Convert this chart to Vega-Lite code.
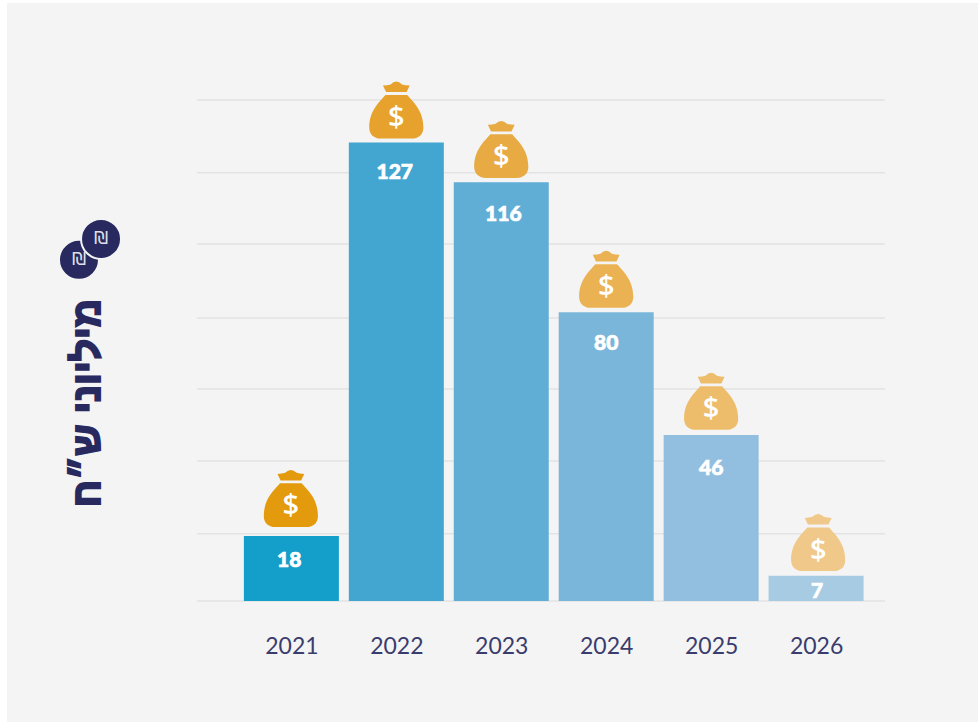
{
 "$schema":"https://vega.github.io/schema/vega-lite/v6.json",
 "width":971,"height":719,
 "padding":{"left":7,"top":3,"right":0,"bottom":0},
 "autosize":"none",
 "background":"#ffffff",
 "view":{"fill":"#f4f4f4","stroke":null},
 "datasets":{
  "bars":[
   {"year":2021,"value":18,"bagX":2020.995,"bag":28.4,"labelX":2020.98,"labelY":11.6},
   {"year":2022,"value":127,"bagX":2022,"bag":136,"labelX":2021.985,"labelY":119.1},
   {"year":2023,"value":116,"bagX":2023,"bag":125.1,"labelX":2023.02,"labelY":107.5},
   {"year":2024,"value":80,"bagX":2024,"bag":89.1,"labelX":2024,"labelY":71.7},
   {"year":2025,"value":46,"bagX":2025,"bag":55.3,"labelX":2025,"labelY":37.1},
   {"year":2026,"value":7,"bagX":2026.02,"bag":16.2,"labelX":2026.01,"labelY":3}
  ],
  "grid":[{"g":0},{"g":18.6},{"g":38.8},{"g":58.7},{"g":78.4},{"g":98.9},{"g":118.6},{"g":138.8}],
  "coins":[{"cx":2018.976,"cy":94.5,"sign":"₪"},{"cx":2019.186,"cy":100.3,"sign":"₪"}],
  "unit":[{"tx":2019.06,"ty":54.8,"label":"מיליוני ש״ח"}]
 },
 "layer":[
  {"data":{"name":"grid"},"mark":{"type":"rule","color":"#e3e3e3","strokeWidth":1.5},
   "encoding":{
    "x":{"datum":2020.1,"type":"quantitative","scale":{"domain":[2018.29,2027.543],"nice":false,"zero":false,"padding":0}},
    "x2":{"datum":2026.657},
    "y":{"field":"g","type":"quantitative","scale":{"domain":[-33.52,165.65],"nice":false,"zero":false}}}},
  {"data":{"name":"bars"},"mark":{"type":"bar","width":95,"orient":"vertical"},
   "encoding":{
    "x":{"field":"year","type":"quantitative","axis":{"values":[2021,2022,2023,2024,2025,2026],"format":"d","title":null,"grid":false,"ticks":false,"domain":false,"offset":-87,"labelFont":"Lato","labelFontSize":23,"labelColor":"#3a3c6e","labelPadding":0,"labelFlush":false,"labelOverlap":false}},
    "y":{"field":"value","type":"quantitative","stack":null,"axis":{"title":null,"grid":false,"ticks":false,"domain":false,"labels":false}},
    "fill":{"field":"year","type":"nominal","legend":null,"scale":{"domain":[2021,2022,2023,2024,2025,2026],"range":["#149fca","#42a6d0","#60aed6","#7ab6da","#92bfdf","#a6cbe3"]}}}},
  {"data":{"name":"bars"},"mark":{"type":"point","filled":true,"opacity":1,"size":3249,
    "shape":"M-.47,-.86 Q-.3,-.86 -.2,-.9 Q-.1,-1 0,-1 Q.1,-1 .2,-.9 Q.3,-.86 .47,-.86 L.36,-.63 L-.36,-.63 Z M-.38,-.53 L.38,-.53 C.6,-.28 .95,.02 .95,.62 C.95,.88 .75,1 .55,1 L-.55,1 C-.75,1 -.95,.88 -.95,.62 C-.95,.02 -.6,-.28 -.38,-.53 Z"},
   "encoding":{
    "x":{"field":"bagX","type":"quantitative"},
    "y":{"field":"bag","type":"quantitative"},
    "color":{"field":"year","type":"nominal","legend":null,"scale":{"domain":[2021,2022,2023,2024,2025,2026],"range":["#e39a0c","#e6a22c","#e8ab44","#ebb253","#edbd6c","#f0c88a"]}}}},
  {"data":{"name":"bars"},"mark":{"type":"text","text":"$","font":"Open Sans","fontWeight":600,"fontSize":29,"color":"#ffffff","baseline":"middle","dy":8},
   "encoding":{
    "x":{"field":"bagX","type":"quantitative"},
    "y":{"field":"bag","type":"quantitative"}}},
  {"data":{"name":"bars"},"mark":{"type":"text","font":"Lato","fontWeight":900,"fontSize":21,"color":"#ffffff","stroke":"#ffffff","strokeWidth":0.7,"baseline":"middle","dy":2},
   "encoding":{
    "x":{"field":"labelX","type":"quantitative"},
    "y":{"field":"labelY","type":"quantitative"},
    "text":{"field":"value","type":"quantitative"}}},
  {"data":{"name":"unit"},"mark":{"type":"text","font":"Liberation Sans","fontWeight":"bold","fontSize":39,"angle":270,"color":"#27295f","stroke":"#27295f","strokeWidth":2,"align":"center","baseline":"middle"},
   "encoding":{
    "x":{"field":"tx","type":"quantitative"},
    "y":{"field":"ty","type":"quantitative"},
    "text":{"field":"label","type":"nominal"}}},
  {"data":{"name":"coins"},"mark":{"type":"point","shape":"circle","filled":true,"opacity":1,"size":1600,"color":"#27295f","stroke":"#f4f4f4","strokeWidth":2},
   "encoding":{
    "x":{"field":"cx","type":"quantitative"},
    "y":{"field":"cy","type":"quantitative"}}},
  {"data":{"name":"coins"},"mark":{"type":"text","font":"DejaVu Sans","fontSize":18,"color":"#dfe0ea","baseline":"middle"},
   "encoding":{
    "x":{"field":"cx","type":"quantitative"},
    "y":{"field":"cy","type":"quantitative"},
    "text":{"field":"sign","type":"nominal"}}}
 ]
}
